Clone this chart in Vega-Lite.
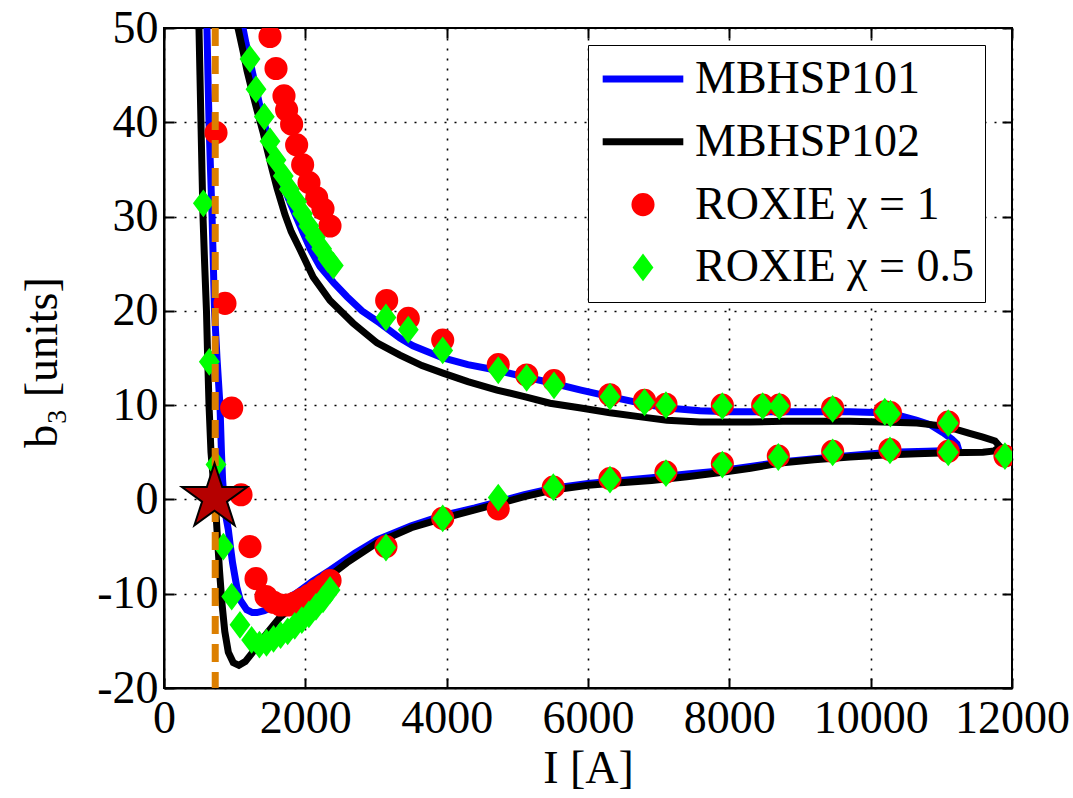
{
  "$schema": "https://vega.github.io/schema/vega-lite/v6.json",
  "width": 848,
  "height": 660,
  "autosize": {"type": "none"},
  "padding": {"left": 164, "top": 28, "right": 61, "bottom": 110},
  "background": "white",
  "config": {
    "font": "Liberation Serif",
    "view": {"stroke": "black", "strokeWidth": 2},
    "axis": {
      "labelFont": "Liberation Serif", "labelFontSize": 46, "labelColor": "black",
      "titleFont": "Liberation Serif", "titleFontSize": 46, "titleColor": "black", "titleFontWeight": "normal",
      "domainColor": "black", "domainWidth": 2, "tickColor": "black", "tickWidth": 2,
      "gridColor": "black", "gridDash": [2, 8], "gridWidth": 1.6, "gridOpacity": 1,
      "labelFlush": false, "labelOverlap": false
    }
  },
  "datasets": {
    "curves": [
      {"series":"MBHSP101","i":1,"I":600,"b3":55},{"series":"MBHSP101","i":2,"I":608,"b3":50},{"series":"MBHSP101","i":3,"I":622,"b3":45},{"series":"MBHSP101","i":4,"I":637,"b3":40},{"series":"MBHSP101","i":5,"I":658,"b3":35},{"series":"MBHSP101","i":6,"I":680,"b3":30},{"series":"MBHSP101","i":7,"I":698,"b3":25},{"series":"MBHSP101","i":8,"I":715,"b3":20},{"series":"MBHSP101","i":9,"I":750,"b3":15},{"series":"MBHSP101","i":10,"I":792,"b3":10},{"series":"MBHSP101","i":11,"I":813,"b3":5},{"series":"MBHSP101","i":12,"I":830,"b3":2},{"series":"MBHSP101","i":13,"I":850,"b3":0},{"series":"MBHSP101","i":14,"I":880,"b3":-2},{"series":"MBHSP101","i":15,"I":910,"b3":-3.2},{"series":"MBHSP101","i":16,"I":940,"b3":-5},{"series":"MBHSP101","i":17,"I":970,"b3":-6.7},{"series":"MBHSP101","i":18,"I":1000,"b3":-8},{"series":"MBHSP101","i":19,"I":1030,"b3":-9.3},{"series":"MBHSP101","i":20,"I":1080,"b3":-10.7},{"series":"MBHSP101","i":21,"I":1170,"b3":-11.7},{"series":"MBHSP101","i":22,"I":1250,"b3":-12.0},{"series":"MBHSP101","i":23,"I":1316,"b3":-12.0},{"series":"MBHSP101","i":24,"I":1420,"b3":-11.8},{"series":"MBHSP101","i":25,"I":1542,"b3":-11.4},{"series":"MBHSP101","i":26,"I":1700,"b3":-10.7},{"series":"MBHSP101","i":27,"I":1882,"b3":-9.9},{"series":"MBHSP101","i":28,"I":2100,"b3":-8.7},{"series":"MBHSP101","i":29,"I":2350,"b3":-7.5},{"series":"MBHSP101","i":30,"I":2700,"b3":-5.7},{"series":"MBHSP101","i":31,"I":3014,"b3":-4.3},{"series":"MBHSP101","i":32,"I":3500,"b3":-2.8},{"series":"MBHSP101","i":33,"I":3948,"b3":-1.7},{"series":"MBHSP101","i":34,"I":4400,"b3":-0.9},{"series":"MBHSP101","i":35,"I":4754,"b3":-0.2},{"series":"MBHSP101","i":36,"I":5100,"b3":0.5},{"series":"MBHSP101","i":37,"I":5505,"b3":1.2},{"series":"MBHSP101","i":38,"I":6000,"b3":1.7},{"series":"MBHSP101","i":39,"I":6311,"b3":1.9},{"series":"MBHSP101","i":40,"I":6900,"b3":2.3},{"series":"MBHSP101","i":41,"I":7400,"b3":2.7},{"series":"MBHSP101","i":42,"I":7825,"b3":3.0},{"series":"MBHSP101","i":43,"I":8300,"b3":3.5},{"series":"MBHSP101","i":44,"I":8760,"b3":4.0},{"series":"MBHSP101","i":45,"I":9470,"b3":4.5},{"series":"MBHSP101","i":46,"I":10270,"b3":5.0},{"series":"MBHSP101","i":47,"I":10800,"b3":5.1},{"series":"MBHSP101","i":48,"I":11120,"b3":5.2},{"series":"MBHSP101","i":49,"I":11240,"b3":5.4},{"series":"MBHSP101","i":50,"I":11220,"b3":5.9},{"series":"MBHSP101","i":51,"I":11150,"b3":6.4},{"series":"MBHSP101","i":52,"I":11020,"b3":7.1},{"series":"MBHSP101","i":53,"I":10850,"b3":7.9},{"series":"MBHSP101","i":54,"I":10655,"b3":8.4},{"series":"MBHSP101","i":55,"I":10400,"b3":8.9},{"series":"MBHSP101","i":56,"I":10170,"b3":9.2},{"series":"MBHSP101","i":57,"I":9700,"b3":9.3},{"series":"MBHSP101","i":58,"I":8760,"b3":9.3},{"series":"MBHSP101","i":59,"I":8000,"b3":9.3},{"series":"MBHSP101","i":60,"I":7584,"b3":9.4},{"series":"MBHSP101","i":61,"I":7117,"b3":9.7},{"series":"MBHSP101","i":62,"I":6877,"b3":10.0},{"series":"MBHSP101","i":63,"I":6311,"b3":10.9},{"series":"MBHSP101","i":64,"I":5900,"b3":11.6},{"series":"MBHSP101","i":65,"I":5462,"b3":12.4},{"series":"MBHSP101","i":66,"I":5100,"b3":13.0},{"series":"MBHSP101","i":67,"I":4712,"b3":13.7},{"series":"MBHSP101","i":68,"I":4300,"b3":14.3},{"series":"MBHSP101","i":69,"I":3948,"b3":15.0},{"series":"MBHSP101","i":70,"I":3523,"b3":16.3},{"series":"MBHSP101","i":71,"I":3339,"b3":17.1},{"series":"MBHSP101","i":72,"I":3056,"b3":18.7},{"series":"MBHSP101","i":73,"I":2800,"b3":20.0},{"series":"MBHSP101","i":74,"I":2590,"b3":21.5},{"series":"MBHSP101","i":75,"I":2400,"b3":23.0},{"series":"MBHSP101","i":76,"I":2207,"b3":24.7},{"series":"MBHSP101","i":77,"I":2080,"b3":26.4},{"series":"MBHSP101","i":78,"I":1967,"b3":28.3},{"series":"MBHSP101","i":79,"I":1870,"b3":30.0},{"series":"MBHSP101","i":80,"I":1783,"b3":31.5},{"series":"MBHSP101","i":81,"I":1650,"b3":34.0},{"series":"MBHSP101","i":82,"I":1542,"b3":36.6},{"series":"MBHSP101","i":83,"I":1450,"b3":39.0},{"series":"MBHSP101","i":84,"I":1358,"b3":41.7},{"series":"MBHSP101","i":85,"I":1290,"b3":44.0},{"series":"MBHSP101","i":86,"I":1217,"b3":46.5},{"series":"MBHSP101","i":87,"I":1160,"b3":48.4},{"series":"MBHSP101","i":88,"I":1118,"b3":50},{"series":"MBHSP101","i":89,"I":1085,"b3":52},
      {"series":"MBHSP102","i":1,"I":485,"b3":55},{"series":"MBHSP102","i":2,"I":495,"b3":50},{"series":"MBHSP102","i":3,"I":509,"b3":45},{"series":"MBHSP102","i":4,"I":523,"b3":40},{"series":"MBHSP102","i":5,"I":537,"b3":35},{"series":"MBHSP102","i":6,"I":552,"b3":30},{"series":"MBHSP102","i":7,"I":575,"b3":25},{"series":"MBHSP102","i":8,"I":601,"b3":20},{"series":"MBHSP102","i":9,"I":618,"b3":15},{"series":"MBHSP102","i":10,"I":637,"b3":10},{"series":"MBHSP102","i":11,"I":665,"b3":5},{"series":"MBHSP102","i":12,"I":693,"b3":2.5},{"series":"MBHSP102","i":13,"I":720,"b3":0},{"series":"MBHSP102","i":14,"I":740,"b3":-2},{"series":"MBHSP102","i":15,"I":760,"b3":-4.5},{"series":"MBHSP102","i":16,"I":785,"b3":-7.5},{"series":"MBHSP102","i":17,"I":820,"b3":-11},{"series":"MBHSP102","i":18,"I":860,"b3":-14},{"series":"MBHSP102","i":19,"I":910,"b3":-16.2},{"series":"MBHSP102","i":20,"I":980,"b3":-17.3},{"series":"MBHSP102","i":21,"I":1060,"b3":-17.6},{"series":"MBHSP102","i":22,"I":1150,"b3":-17.2},{"series":"MBHSP102","i":23,"I":1245,"b3":-16.3},{"series":"MBHSP102","i":24,"I":1350,"b3":-15.2},{"series":"MBHSP102","i":25,"I":1457,"b3":-14.2},{"series":"MBHSP102","i":26,"I":1641,"b3":-12.5},{"series":"MBHSP102","i":27,"I":1882,"b3":-11.0},{"series":"MBHSP102","i":28,"I":2207,"b3":-8.9},{"series":"MBHSP102","i":29,"I":2590,"b3":-6.7},{"series":"MBHSP102","i":30,"I":3014,"b3":-4.6},{"series":"MBHSP102","i":31,"I":3500,"b3":-3.0},{"series":"MBHSP102","i":32,"I":3948,"b3":-2.0},{"series":"MBHSP102","i":33,"I":4400,"b3":-1.1},{"series":"MBHSP102","i":34,"I":4754,"b3":-0.4},{"series":"MBHSP102","i":35,"I":5100,"b3":0.3},{"series":"MBHSP102","i":36,"I":5505,"b3":1.0},{"series":"MBHSP102","i":37,"I":6000,"b3":1.5},{"series":"MBHSP102","i":38,"I":6311,"b3":1.7},{"series":"MBHSP102","i":39,"I":6900,"b3":2.0},{"series":"MBHSP102","i":40,"I":7400,"b3":2.4},{"series":"MBHSP102","i":41,"I":7825,"b3":2.8},{"series":"MBHSP102","i":42,"I":8300,"b3":3.3},{"series":"MBHSP102","i":43,"I":8760,"b3":3.9},{"series":"MBHSP102","i":44,"I":9200,"b3":4.2},{"series":"MBHSP102","i":45,"I":9707,"b3":4.5},{"series":"MBHSP102","i":46,"I":10200,"b3":4.7},{"series":"MBHSP102","i":47,"I":10655,"b3":4.85},{"series":"MBHSP102","i":48,"I":11100,"b3":4.95},{"series":"MBHSP102","i":49,"I":11589,"b3":5.0},{"series":"MBHSP102","i":50,"I":11750,"b3":5.15},{"series":"MBHSP102","i":51,"I":11830,"b3":5.6},{"series":"MBHSP102","i":52,"I":11760,"b3":6.2},{"series":"MBHSP102","i":53,"I":11589,"b3":6.6},{"series":"MBHSP102","i":54,"I":11400,"b3":7.0},{"series":"MBHSP102","i":55,"I":11221,"b3":7.4},{"series":"MBHSP102","i":56,"I":11000,"b3":7.8},{"series":"MBHSP102","i":57,"I":10655,"b3":8.1},{"series":"MBHSP102","i":58,"I":10170,"b3":8.2},{"series":"MBHSP102","i":59,"I":9707,"b3":8.3},{"series":"MBHSP102","i":60,"I":8760,"b3":8.3},{"series":"MBHSP102","i":61,"I":8292,"b3":8.2},{"series":"MBHSP102","i":62,"I":7825,"b3":8.2},{"series":"MBHSP102","i":63,"I":7584,"b3":8.2},{"series":"MBHSP102","i":64,"I":7117,"b3":8.4},{"series":"MBHSP102","i":65,"I":6800,"b3":8.7},{"series":"MBHSP102","i":66,"I":6311,"b3":9.2},{"series":"MBHSP102","i":67,"I":5900,"b3":9.7},{"series":"MBHSP102","i":68,"I":5462,"b3":10.2},{"series":"MBHSP102","i":69,"I":5100,"b3":10.9},{"series":"MBHSP102","i":70,"I":4712,"b3":11.6},{"series":"MBHSP102","i":71,"I":4300,"b3":12.5},{"series":"MBHSP102","i":72,"I":3948,"b3":13.4},{"series":"MBHSP102","i":73,"I":3650,"b3":14.2},{"series":"MBHSP102","i":74,"I":3339,"b3":15.3},{"series":"MBHSP102","i":75,"I":3014,"b3":16.6},{"series":"MBHSP102","i":76,"I":2675,"b3":18.7},{"series":"MBHSP102","i":77,"I":2349,"b3":21.1},{"series":"MBHSP102","i":78,"I":2110,"b3":23.6},{"series":"MBHSP102","i":79,"I":1925,"b3":26.5},{"series":"MBHSP102","i":80,"I":1800,"b3":28.4},{"series":"MBHSP102","i":81,"I":1712,"b3":30.2},{"series":"MBHSP102","i":82,"I":1600,"b3":33.0},{"series":"MBHSP102","i":83,"I":1530,"b3":35.0},{"series":"MBHSP102","i":84,"I":1457,"b3":37.2},{"series":"MBHSP102","i":85,"I":1400,"b3":39.0},{"series":"MBHSP102","i":86,"I":1316,"b3":41.3},{"series":"MBHSP102","i":87,"I":1250,"b3":43.2},{"series":"MBHSP102","i":88,"I":1174,"b3":45.5},{"series":"MBHSP102","i":89,"I":1120,"b3":47.5},{"series":"MBHSP102","i":90,"I":1047,"b3":50},{"series":"MBHSP102","i":91,"I":1010,"b3":52}
    ],
    "roxie": [
      {"series":"ROXIE χ = 1","I":736,"b3":38.9},{"series":"ROXIE χ = 1","I":863,"b3":20.8},{"series":"ROXIE χ = 1","I":958,"b3":9.7},{"series":"ROXIE χ = 1","I":1090,"b3":0.5},{"series":"ROXIE χ = 1","I":1217,"b3":-5.0},{"series":"ROXIE χ = 1","I":1302,"b3":-8.4},{"series":"ROXIE χ = 1","I":1443,"b3":-10.3},{"series":"ROXIE χ = 1","I":1550,"b3":-10.9},{"series":"ROXIE χ = 1","I":1650,"b3":-11.2},{"series":"ROXIE χ = 1","I":1750,"b3":-11.2},{"series":"ROXIE χ = 1","I":1850,"b3":-11.0},{"series":"ROXIE χ = 1","I":1950,"b3":-10.6},{"series":"ROXIE χ = 1","I":2050,"b3":-10.2},{"series":"ROXIE χ = 1","I":2150,"b3":-9.7},{"series":"ROXIE χ = 1","I":2250,"b3":-9.2},{"series":"ROXIE χ = 1","I":2350,"b3":-8.6},
      {"series":"ROXIE χ = 1","I":1500,"b3":49.1},{"series":"ROXIE χ = 1","I":1585,"b3":45.7},{"series":"ROXIE χ = 1","I":1698,"b3":42.8},{"series":"ROXIE χ = 1","I":1735,"b3":41.3},{"series":"ROXIE χ = 1","I":1806,"b3":39.8},{"series":"ROXIE χ = 1","I":1877,"b3":37.6},{"series":"ROXIE χ = 1","I":1962,"b3":35.5},{"series":"ROXIE χ = 1","I":2052,"b3":33.6},{"series":"ROXIE χ = 1","I":2161,"b3":32.0},{"series":"ROXIE χ = 1","I":2250,"b3":30.8},{"series":"ROXIE χ = 1","I":2349,"b3":29.0},
      {"series":"ROXIE χ = 1","I":3151,"b3":21.1},{"series":"ROXIE χ = 1","I":3457,"b3":19.2},{"series":"ROXIE χ = 1","I":3944,"b3":16.9},{"series":"ROXIE χ = 1","I":4730,"b3":14.3},{"series":"ROXIE χ = 1","I":5132,"b3":13.2},{"series":"ROXIE χ = 1","I":5519,"b3":12.6},{"series":"ROXIE χ = 1","I":6311,"b3":11.1},{"series":"ROXIE χ = 1","I":6800,"b3":10.5},{"series":"ROXIE χ = 1","I":7103,"b3":10.1},{"series":"ROXIE χ = 1","I":7901,"b3":10.0},{"series":"ROXIE χ = 1","I":8472,"b3":10.0},{"series":"ROXIE χ = 1","I":8707,"b3":10.0},{"series":"ROXIE χ = 1","I":9462,"b3":9.7},{"series":"ROXIE χ = 1","I":10200,"b3":9.3},{"series":"ROXIE χ = 1","I":10280,"b3":9.2},{"series":"ROXIE χ = 1","I":11098,"b3":8.2},
      {"series":"ROXIE χ = 1","I":11900,"b3":4.6},{"series":"ROXIE χ = 1","I":11098,"b3":5.1},{"series":"ROXIE χ = 1","I":10273,"b3":5.3},{"series":"ROXIE χ = 1","I":9462,"b3":5.1},{"series":"ROXIE χ = 1","I":8693,"b3":4.6},{"series":"ROXIE χ = 1","I":7901,"b3":3.8},{"series":"ROXIE χ = 1","I":7103,"b3":2.9},{"series":"ROXIE χ = 1","I":6311,"b3":2.2},{"series":"ROXIE χ = 1","I":5509,"b3":1.3},{"series":"ROXIE χ = 1","I":4730,"b3":-1.0},{"series":"ROXIE χ = 1","I":3944,"b3":-2.0},{"series":"ROXIE χ = 1","I":3141,"b3":-5.0},
      {"series":"ROXIE χ = 0.5","I":557,"b3":31.4},{"series":"ROXIE χ = 0.5","I":641,"b3":14.6},{"series":"ROXIE χ = 0.5","I":736,"b3":3.7},{"series":"ROXIE χ = 0.5","I":840,"b3":-5.0},{"series":"ROXIE χ = 0.5","I":958,"b3":-10.3},{"series":"ROXIE χ = 0.5","I":1075,"b3":-13.3},{"series":"ROXIE χ = 0.5","I":1240,"b3":-14.9},{"series":"ROXIE χ = 0.5","I":1350,"b3":-15.4},{"series":"ROXIE χ = 0.5","I":1450,"b3":-15.2},{"series":"ROXIE χ = 0.5","I":1550,"b3":-14.8},{"series":"ROXIE χ = 0.5","I":1650,"b3":-14.4},{"series":"ROXIE χ = 0.5","I":1750,"b3":-14.0},{"series":"ROXIE χ = 0.5","I":1850,"b3":-13.4},{"series":"ROXIE χ = 0.5","I":1950,"b3":-12.8},{"series":"ROXIE χ = 0.5","I":2050,"b3":-12.2},{"series":"ROXIE χ = 0.5","I":2150,"b3":-11.4},{"series":"ROXIE χ = 0.5","I":2250,"b3":-10.6},{"series":"ROXIE χ = 0.5","I":2350,"b3":-9.6},
      {"series":"ROXIE χ = 0.5","I":1217,"b3":46.7},{"series":"ROXIE χ = 0.5","I":1302,"b3":43.5},{"series":"ROXIE χ = 0.5","I":1420,"b3":40.6},{"series":"ROXIE χ = 0.5","I":1500,"b3":38.0},{"series":"ROXIE χ = 0.5","I":1585,"b3":36.0},{"series":"ROXIE χ = 0.5","I":1688,"b3":34.3},{"series":"ROXIE χ = 0.5","I":1773,"b3":32.9},{"series":"ROXIE χ = 0.5","I":1877,"b3":31.6},{"series":"ROXIE χ = 0.5","I":1960,"b3":30.3},{"series":"ROXIE χ = 0.5","I":2050,"b3":29.0},{"series":"ROXIE χ = 0.5","I":2140,"b3":27.8},{"series":"ROXIE χ = 0.5","I":2230,"b3":26.6},{"series":"ROXIE χ = 0.5","I":2320,"b3":25.5},{"series":"ROXIE χ = 0.5","I":2396,"b3":24.8},
      {"series":"ROXIE χ = 0.5","I":3141,"b3":19.3},{"series":"ROXIE χ = 0.5","I":3457,"b3":18.0},{"series":"ROXIE χ = 0.5","I":3944,"b3":15.8},{"series":"ROXIE χ = 0.5","I":4730,"b3":13.7},{"series":"ROXIE χ = 0.5","I":5132,"b3":12.9},{"series":"ROXIE χ = 0.5","I":5519,"b3":12.1},{"series":"ROXIE χ = 0.5","I":6311,"b3":10.9},{"series":"ROXIE χ = 0.5","I":6800,"b3":10.3},{"series":"ROXIE χ = 0.5","I":7103,"b3":10.0},{"series":"ROXIE χ = 0.5","I":7901,"b3":9.9},{"series":"ROXIE χ = 0.5","I":8472,"b3":9.9},{"series":"ROXIE χ = 0.5","I":8707,"b3":9.9},{"series":"ROXIE χ = 0.5","I":9462,"b3":9.6},{"series":"ROXIE χ = 0.5","I":10200,"b3":9.3},{"series":"ROXIE χ = 0.5","I":10280,"b3":9.1},{"series":"ROXIE χ = 0.5","I":11098,"b3":8.1},
      {"series":"ROXIE χ = 0.5","I":11900,"b3":4.6},{"series":"ROXIE χ = 0.5","I":11098,"b3":5.0},{"series":"ROXIE χ = 0.5","I":10273,"b3":5.2},{"series":"ROXIE χ = 0.5","I":9462,"b3":5.0},{"series":"ROXIE χ = 0.5","I":8693,"b3":4.5},{"series":"ROXIE χ = 0.5","I":7901,"b3":3.7},{"series":"ROXIE χ = 0.5","I":7103,"b3":2.8},{"series":"ROXIE χ = 0.5","I":6311,"b3":2.1},{"series":"ROXIE χ = 0.5","I":5509,"b3":1.3},{"series":"ROXIE χ = 0.5","I":4730,"b3":0.2},{"series":"ROXIE χ = 0.5","I":3944,"b3":-2.0},{"series":"ROXIE χ = 0.5","I":3141,"b3":-5.1}
    ],
    "marker": [{"I": 715, "b3": 0.2}],
    "threshold": [{"I": 725}]
  },
  "resolve": {"axis": {"x": "independent", "y": "independent"}},
  "layer": [
    {
      "data": {"name": "curves"},
      "transform": [{"filter": "datum.series === 'MBHSP101'"}],
      "mark": {"type": "line", "strokeWidth": 7, "clip": true, "color": "#0000ff"},
      "encoding": {
        "x": {"field": "I", "type": "quantitative", "scale": {"domain": [0, 12000], "nice": false, "zero": false},
              "axis": {"orient": "bottom", "values": [0, 2000, 4000, 6000, 8000, 10000, 12000], "grid": true, "tickSize": -10, "labelPadding": 18,
                       "labelExpr": "datum.value + ''",
                       "title": "I [A]", "titleX": 424, "titleY": 94, "titleBaseline": "alphabetic", "titleAlign": "center"}},
        "y": {"field": "b3", "type": "quantitative", "scale": {"domain": [-20, 50], "nice": false, "zero": false},
              "axis": {"orient": "left", "values": [-20, -10, 0, 10, 20, 30, 40, 50], "grid": true, "tickSize": -10, "labelPadding": 16,
                       "labelExpr": "datum.value + ''",
                       "title": "b₃ [units]", "titleX": -108, "titleY": 334, "titleAngle": -90, "titleBaseline": "alphabetic", "titleAlign": "center"}},
        "order": {"field": "i", "type": "quantitative"}
      }
    },
    {
      "data": {"name": "curves"},
      "transform": [{"filter": "datum.series === 'MBHSP102'"}],
      "mark": {"type": "line", "strokeWidth": 7, "clip": true, "color": "#000000"},
      "encoding": {
        "x": {"field": "I", "type": "quantitative", "axis": null},
        "y": {"field": "b3", "type": "quantitative", "axis": null},
        "order": {"field": "i", "type": "quantitative"}
      }
    },
    {
      "data": {"name": "roxie"},
      "mark": {"type": "point", "filled": true, "opacity": 1, "clip": true},
      "encoding": {
        "x": {"field": "I", "type": "quantitative", "axis": null},
        "y": {"field": "b3", "type": "quantitative", "axis": null},
        "color": {"field": "series", "type": "nominal",
                  "scale": {"domain": ["MBHSP101", "MBHSP102", "ROXIE χ = 1", "ROXIE χ = 0.5"], "range": ["#0000ff", "#000000", "#ff0000", "#00ff00"]},
                  "legend": {"title": null, "orient": "none", "legendX": 424, "legendY": 17, "labelFont": "Liberation Serif", "labelFontSize": 46, "labelColor": "black",
                             "labelLimit": 500, "strokeColor": "black", "fillColor": "white", "padding": 11, "rowPadding": 16.8, "symbolOffset": 21, "labelOffset": 29}},
        "stroke": {"field": "series", "type": "nominal",
                   "scale": {"domain": ["MBHSP101", "MBHSP102", "ROXIE χ = 1", "ROXIE χ = 0.5"], "range": ["#0000ff", "#000000", "#ff0000", "#00ff00"]}},
        "shape": {"field": "series", "type": "nominal",
                  "scale": {"domain": ["MBHSP101", "MBHSP102", "ROXIE χ = 1", "ROXIE χ = 0.5"], "range": ["M-5,0H5", "M-5,0H5", "circle", "M0,-1L0.75,0L0,1L-0.75,0Z"]}},
        "size": {"field": "series", "type": "nominal",
                 "scale": {"domain": ["MBHSP101", "MBHSP102", "ROXIE χ = 1", "ROXIE χ = 0.5"], "range": [260, 260, 280, 400]}},
        "strokeWidth": {"field": "series", "type": "nominal",
                        "scale": {"domain": ["MBHSP101", "MBHSP102", "ROXIE χ = 1", "ROXIE χ = 0.5"], "range": [7, 7, 0, 0]}}
      }
    },
    {
      "data": {"name": "threshold"},
      "mark": {"type": "rule", "color": "#dc7f00", "strokeWidth": 7, "strokeDash": [18, 10]},
      "encoding": {
        "x": {"field": "I", "type": "quantitative", "axis": null}
      }
    },
    {
      "data": {"name": "marker"},
      "mark": {"type": "point", "shape": "M0,-1L0.2245,-0.309L0.951,-0.309L0.363,0.118L0.588,0.809L0,0.382L-0.588,0.809L-0.363,0.118L-0.951,-0.309L-0.2245,-0.309Z",
               "size": 4706, "filled": true, "fill": "#b50000", "stroke": "black", "strokeWidth": 2, "opacity": 1},
      "encoding": {
        "x": {"field": "I", "type": "quantitative",
              "axis": {"orient": "top", "values": [0, 2000, 4000, 6000, 8000, 10000, 12000], "labels": false, "grid": false, "title": null, "tickSize": -10, "domain": false}},
        "y": {"field": "b3", "type": "quantitative",
              "axis": {"orient": "right", "values": [-20, -10, 0, 10, 20, 30, 40, 50], "labels": false, "grid": false, "title": null, "tickSize": -10, "domain": false}}
      }
    }
  ]
}
